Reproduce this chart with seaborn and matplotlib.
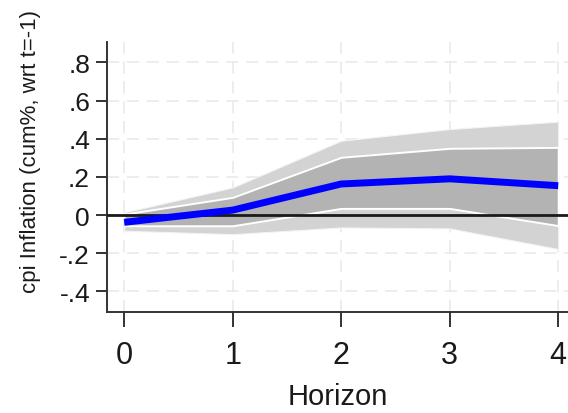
import numpy as np
import pandas as pd
import matplotlib
matplotlib.use("Agg")
import matplotlib.pyplot as plt
import seaborn as sns

horizon = [0, 1, 2, 3, 4]
irf = [-0.038, 0.026, 0.163, 0.190, 0.154]
inner_hi = [0.005, 0.093, 0.303, 0.350, 0.355]
inner_lo = [-0.056, -0.056, 0.035, 0.035, -0.055]
outer_hi = [0.014, 0.145, 0.390, 0.451, 0.490]
outer_lo = [-0.082, -0.100, -0.065, -0.070, -0.178]
yticks = [-0.4, -0.2, 0, 0.2, 0.4, 0.6, 0.8]
ytick_labels = ["-.4", "-.2", "0", ".2", ".4", ".6", ".8"]

sns.set_theme(style="white")
plt.rcParams["font.family"] = ["Liberation Sans", "DejaVu Sans"]

df = pd.DataFrame({"Horizon": horizon, "irf": irf})

fig = plt.figure(figsize=(5.68, 4.14), dpi=100)
ax = fig.add_axes([0.188, 0.244, 0.812, 0.652])

grid_kw = dict(color="#e8e8e8", lw=1.1, ls=(0, (8, 5)), zorder=0)
for y in yticks:
    ax.axhline(y, **grid_kw)
for x in horizon:
    ax.axvline(x, **grid_kw)

ax.fill_between(horizon, outer_lo, outer_hi, color="#d3d3d3", edgecolor="#f4f4f4", lw=0.8, zorder=1)
ax.fill_between(horizon, inner_lo, inner_hi, color="#b3b3b3", edgecolor="white", lw=1.4, zorder=2)
ax.axhline(0, color="#1a1a1a", lw=2.0, zorder=3)
sns.lineplot(data=df, x="Horizon", y="irf", color="#0000ff", lw=5, ax=ax, zorder=4,
             solid_capstyle="butt")

ax.set_xlim(-0.16, 4.09)
ax.set_ylim(-0.508, 0.907)
ax.set_xticks(horizon)
ax.set_xticklabels([str(h) for h in horizon], fontsize=22, color="#1a1a1a")
ax.set_yticks(yticks)
ax.set_yticklabels(ytick_labels, fontsize=19, rotation=0, color="#1a1a1a")
ax.tick_params(axis="y", length=8, width=1.4, color="#333333", pad=4, left=True)
ax.tick_params(axis="x", length=11, width=1.4, color="#333333", pad=9, bottom=True)

for s in ["top", "right"]:
    ax.spines[s].set_visible(False)
for s in ["left", "bottom"]:
    ax.spines[s].set_color("#333333")
    ax.spines[s].set_linewidth(1.4)

ax.set_xlabel("Horizon", fontsize=21, labelpad=9, color="#1a1a1a")
ax.set_ylabel("cpi Inflation (cum%, wrt t=-1)", fontsize=16, color="#1a1a1a")
ax.yaxis.set_label_coords(-0.142, 0.6)
ax.grid(False)

fig.savefig("out.png", dpi=100)
